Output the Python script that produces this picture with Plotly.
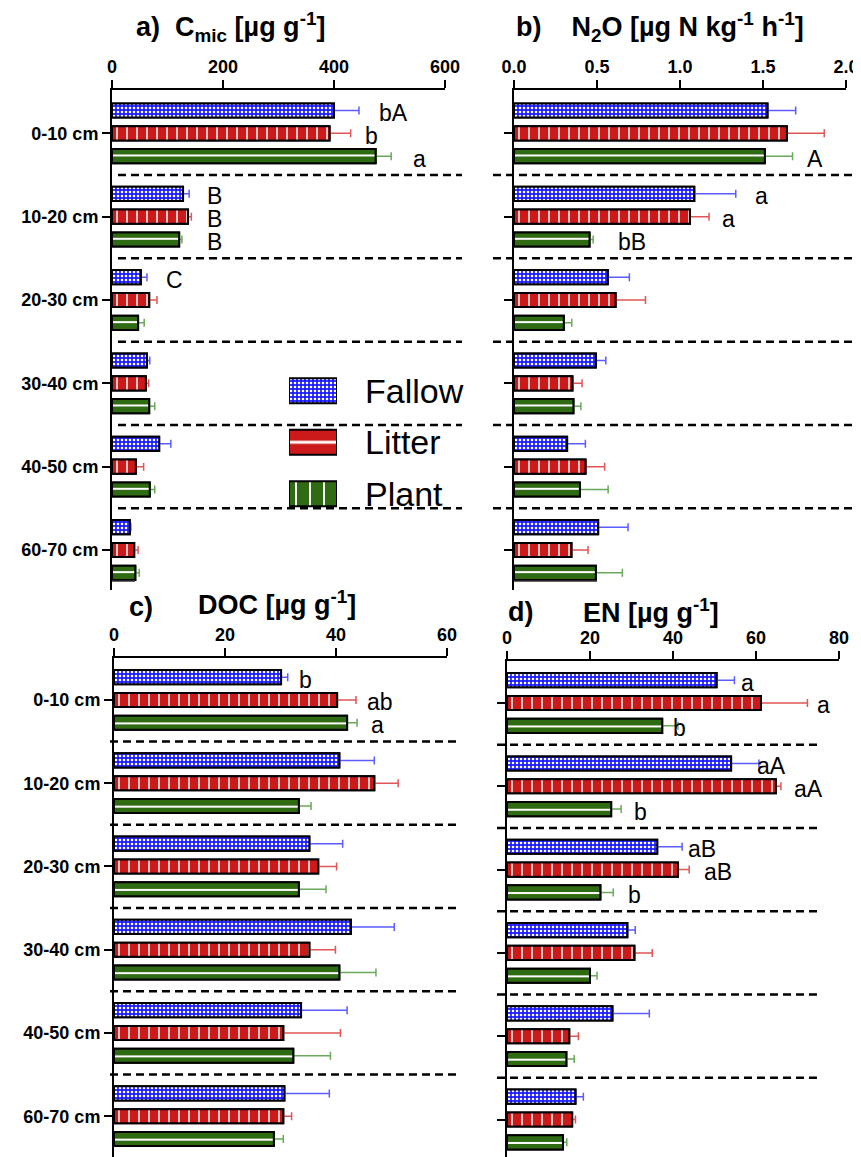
import plotly.graph_objects as go

# the page body adds an 8 px margin, so the figure is made smaller and every
# reference pixel position is shifted by that margin
PAD = 8
W, H = 861 - PAD, 1157 - PAD

depths = ["0-10 cm", "10-20 cm", "20-30 cm", "30-40 cm", "40-50 cm", "60-70 cm"]
series = ["Fallow", "Litter", "Plant"]

# a) Cmic [ug g-1]
cmic_fallow = [400, 128, 52, 63, 85, 32]
cmic_fallow_err = [45, 11, 11, 5, 21, 2]
cmic_litter = [392, 137, 67, 61, 43, 40]
cmic_litter_err = [38, 6, 14, 5, 14, 7]
cmic_plant = [475, 121, 47, 67, 68, 42]
cmic_plant_err = [28, 5, 11, 10, 9, 7]

# b) N2O [ug N kg-1 h-1]
n2o_fallow = [1.527, 1.086, 0.565, 0.493, 0.320, 0.507]
n2o_fallow_err = [0.17, 0.25, 0.13, 0.06, 0.11, 0.18]
n2o_litter = [1.644, 1.060, 0.612, 0.352, 0.431, 0.346]
n2o_litter_err = [0.225, 0.115, 0.18, 0.058, 0.115, 0.10]
n2o_plant = [1.511, 0.455, 0.300, 0.358, 0.397, 0.493]
n2o_plant_err = [0.167, 0.022, 0.048, 0.045, 0.17, 0.16]

# c) DOC [ug g-1]
doc_fallow = [30.1, 40.6, 35.2, 42.7, 33.7, 30.7]
doc_fallow_err = [1.2, 6.3, 6.0, 7.8, 8.3, 8.1]
doc_litter = [40.2, 46.9, 36.8, 35.2, 30.5, 30.5]
doc_litter_err = [3.4, 4.3, 3.3, 4.7, 10.3, 1.5]
doc_plant = [42.0, 33.3, 33.3, 40.6, 32.3, 28.8]
doc_plant_err = [1.8, 2.2, 4.9, 6.6, 6.7, 1.7]

# d) EN [ug g-1]
en_fallow = [50.5, 54.0, 36.2, 29.0, 25.4, 16.5]
en_fallow_err = [4.3, 6.7, 6.0, 1.9, 8.9, 1.9]
en_litter = [61.2, 64.8, 41.2, 30.7, 15.0, 15.7]
en_litter_err = [11.2, 1.2, 2.7, 4.3, 2.2, 0.8]
en_plant = [37.4, 25.1, 22.5, 20.0, 14.3, 13.5]
en_plant_err = [3.8, 2.4, 3.1, 1.7, 1.9, 0.9]

# significance letters: (label, depth index, series index, x in data units)
cmic_letters = [("bA", 0, 0, 477), ("b", 0, 1, 452), ("a", 0, 2, 539),
                ("B", 1, 0, 167), ("B", 1, 1, 167), ("B", 1, 2, 167), ("C", 2, 0, 94)]
n2o_letters = [("A", 0, 2, 1.75), ("a", 1, 0, 1.44), ("a", 1, 1, 1.24), ("bB", 1, 2, 0.614)]
doc_letters = [("b", 0, 0, 32.9), ("ab", 0, 1, 45.3), ("a", 0, 2, 45.9)]
en_letters = [("a", 0, 0, 56.0), ("a", 0, 1, 74.2), ("b", 0, 2, 39.5),
              ("aA", 1, 0, 59.8), ("aA", 1, 1, 68.7), ("b", 1, 2, 30.2),
              ("aB", 2, 0, 43.2), ("aB", 2, 1, 47.0), ("b", 2, 2, 28.7)]

FONT = "Liberation Sans, Arial, sans-serif"
fill_colors = ["#1a1aff", "#cc1a1a", "#2f6b12"]
err_colors = ["#5b5bff", "#e05555", "#6aa85a"]


def xp(px):
    return (px - PAD) / W


def yp(py):
    return 1 - (py - PAD) / H


panels = [
    dict(ax="", x0=112, x1=445, yt=90, yb=590, xr=[0, 600], ytop=-0.52, ybot=5.48,
         tv=[0, 200, 400, 600], tt=["0", "200", "400", "600"], labels=True,
         data=[(cmic_fallow, cmic_fallow_err), (cmic_litter, cmic_litter_err), (cmic_plant, cmic_plant_err)],
         letters=cmic_letters, dash=(118, 462)),
    dict(ax="2", x0=514, x1=846, yt=90, yb=590, xr=[0, 2.0], ytop=-0.52, ybot=5.48,
         tv=[0, 0.5, 1.0, 1.5, 2.0], tt=["0.0", "0.5", "1.0", "1.5", "2.0"], labels=False,
         data=[(n2o_fallow, n2o_fallow_err), (n2o_litter, n2o_litter_err), (n2o_plant, n2o_plant_err)],
         letters=n2o_letters, dash=(493, 855)),
    dict(ax="3", x0=114, x1=447, yt=658, yb=1157, xr=[0, 60], ytop=-0.504, ybot=5.49,
         tv=[0, 20, 40, 60], tt=["0", "20", "40", "60"], labels=True,
         data=[(doc_fallow, doc_fallow_err), (doc_litter, doc_litter_err), (doc_plant, doc_plant_err)],
         letters=doc_letters, dash=(110, 460)),
    dict(ax="4", x0=507, x1=839, yt=661, yb=1157, xr=[0, 80], ytop=-0.504, ybot=5.45,
         tv=[0, 20, 40, 60, 80], tt=["0", "20", "40", "60", "80"], labels=False,
         data=[(en_fallow, en_fallow_err), (en_litter, en_litter_err), (en_plant, en_plant_err)],
         letters=en_letters, dash=(497, 818)),
]

SLOT = 0.274
BW = 0.17

fig = go.Figure()
layout = dict(width=W, height=H, margin=dict(l=0, r=0, t=0, b=0, autoexpand=False),
              paper_bgcolor="white", plot_bgcolor="rgba(0,0,0,0)",
              barmode="overlay", showlegend=False, font=dict(family=FONT, color="black"))
shapes = []
annotations = []

for p in panels:
    xa, ya = "x" + p["ax"], "y" + p["ax"]
    unit = (p["yb"] - p["yt"]) / (p["ybot"] - p["ytop"])
    for s in range(3):
        vals, errs = p["data"][s]
        if s == 0:
            pat = dict(shape=".", fgcolor="white", bgcolor=fill_colors[0], size=4, solidity=0.35, fillmode="replace")
        elif s == 1:
            pat = dict(shape="|", fgcolor="white", bgcolor=fill_colors[1], size=10, solidity=0.15, fillmode="replace")
        else:
            pat = dict(shape="-", fgcolor="white", bgcolor=fill_colors[2], size=unit / 7, solidity=0.17, fillmode="replace")
        off = (s - 1) * SLOT - BW / 2
        fig.add_trace(go.Bar(
            x=vals, y=depths, orientation="h", xaxis=xa, yaxis=ya,
            width=BW, offset=off,
            marker=dict(color=fill_colors[s], line=dict(color="black", width=2), pattern=pat),
            error_x=dict(type="data", array=errs, arrayminus=[0] * len(errs), symmetric=False,
                         color=err_colors[s], thickness=1.5, width=4),
            hoverinfo="skip"))
        fig.add_trace(go.Bar(
            x=vals, y=depths, orientation="h", xaxis=xa, yaxis=ya,
            width=BW, offset=off,
            marker=dict(color=fill_colors[s], line=dict(color="black", width=2), pattern=pat),
            hoverinfo="skip"))

    layout["xaxis" + p["ax"]] = dict(
        domain=[xp(p["x0"]), xp(p["x1"])], range=p["xr"], side="top", anchor=ya,
        tickvals=p["tv"], ticktext=p["tt"], ticks="outside", ticklen=8, tickwidth=2,
        tickcolor="black", showline=True, linecolor="black", linewidth=2,
        showgrid=False, zeroline=False, fixedrange=True, automargin=False,
        tickfont=dict(family=FONT, size=18, weight="bold", color="black"))
    layout["yaxis" + p["ax"]] = dict(
        domain=[max(0, yp(p["yb"])), yp(p["yt"])], type="category", categoryarray=depths,
        range=[p["ybot"], p["ytop"]], anchor=xa,
        ticks="outside", ticklen=8, tickwidth=2, tickcolor="black",
        showticklabels=p["labels"], showline=True, linecolor="black", linewidth=2,
        showgrid=False, zeroline=False, fixedrange=True, automargin=False,
        tickfont=dict(family=FONT, size=18, weight="bold", color="black"))

    for b in [0.5, 1.5, 2.5, 3.5, 4.5]:
        shapes.append(dict(type="line", xref="paper", yref=ya, x0=xp(p["dash"][0]), x1=xp(p["dash"][1]),
                           y0=b, y1=b, line=dict(color="black", width=2.5, dash="8px,5px")))

    for lab, d, s, xv in p["letters"]:
        annotations.append(dict(text=lab, x=xv, y=d + (s - 1) * SLOT + 0.03, xref=xa, yref=ya,
                                xanchor="left", yanchor="middle", showarrow=False,
                                font=dict(family=FONT, size=23, color="black")))

# small frame remnants just under the upper panels
for x0, x1 in [(112, 135), (514, 597)]:
    shapes.append(dict(type="line", xref="paper", yref="paper", x0=xp(x0), x1=xp(x1),
                       y0=yp(581), y1=yp(581), line=dict(color="#333333", width=1.5)))

# legend swatches as bars on their own axes
leg_y = [0, 1, 2]
leg_pats = [
    dict(shape=".", fgcolor="white", bgcolor=fill_colors[0], size=4, solidity=0.35, fillmode="replace"),
    dict(shape="-", fgcolor="white", bgcolor=fill_colors[1], size=51.5, solidity=0.06, fillmode="replace"),
    dict(shape="|", fgcolor="white", bgcolor=fill_colors[2], size=14, solidity=0.14, fillmode="replace"),
]
for s in range(3):
    fig.add_trace(go.Bar(x=[1], y=[leg_y[s]], orientation="h", xaxis="x5", yaxis="y5",
                         width=0.485, marker=dict(color=fill_colors[s], line=dict(color="black", width=2),
                                                  pattern=leg_pats[s]), hoverinfo="skip"))
    annotations.append(dict(text=series[s], x=xp(363), y=leg_y[s], xref="paper", yref="y5",
                            xanchor="left", yanchor="middle", showarrow=False,
                            font=dict(family=FONT, size=34, color="black")))
layout["xaxis5"] = dict(domain=[xp(289), xp(337)], range=[0, 1], visible=False, anchor="y5",
                        fixedrange=True, automargin=False)
layout["yaxis5"] = dict(domain=[yp(519.5), yp(365)], range=[2.5, -0.5], visible=False, anchor="x5",
                        fixedrange=True, automargin=False)

NB = "\u00a0"
titles = [
    ("<b>a)" + NB * 2 + "C<sub>mic</sub> [µg g<sup>-1</sup>]</b>", 134, 27),
    ("<b>b)" + NB * 4 + "N<sub>2</sub>O [µg N kg<sup>-1</sup> h<sup>-1</sup>]</b>", 514, 27),
    ("<b>c)</b>", 127, 607),
    ("<b>DOC [µg g<sup>-1</sup>]</b>", 196, 603),
    ("<b>d)</b>", 506, 612),
    ("<b>EN [µg g<sup>-1</sup>]</b>", 581, 611),
]
for t, x, y in titles:
    annotations.append(dict(text=t, x=xp(x), y=yp(y), xref="paper", yref="paper",
                            xanchor="left", yanchor="middle", showarrow=False,
                            font=dict(family=FONT, size=27, color="black")))

layout["shapes"] = shapes
layout["annotations"] = annotations
fig.update_layout(**layout)
fig.write_html("out.html")
